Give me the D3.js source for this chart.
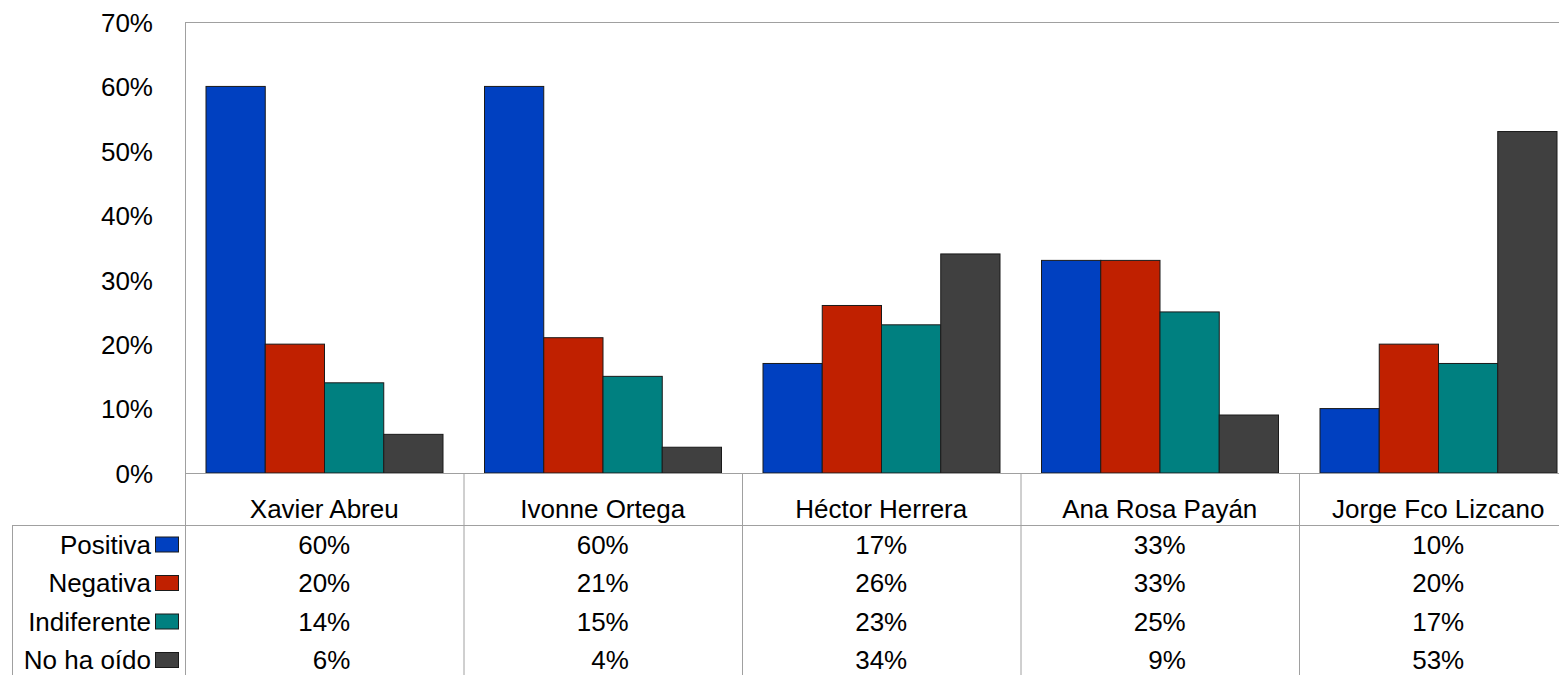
<!DOCTYPE html>
<html><head><meta charset="utf-8">
<script src="https://cdn.jsdelivr.net/npm/d3@7"></script>
<style>body{margin:0;background:#fff;} svg{display:block;font-family:"Liberation Sans",Arial,sans-serif;}</style>
</head><body>
<svg id="c" width="1559" height="675"></svg>
<script>
const categories = ["Xavier Abreu","Ivonne Ortega","Héctor Herrera","Ana Rosa Payán","Jorge Fco Lizcano"];
const seriesNames = ["Positiva","Negativa","Indiferente","No ha oído"];
const positiva = [60,60,17,33,10];
const negativa = [20,21,26,33,20];
const indiferente = [14,15,23,25,17];
const noHaOido = [6,4,34,9,53];
const yTicks = [0,10,20,30,40,50,60,70];
const colors = ["#0040C0","#C02000","#008080","#404040"];
const seriesValues = [positiva,negativa,indiferente,noHaOido];

const svg = d3.select("#c");
const plotLeft = 185, plotTop = 22, plotBottom = 473, groupW = 278.5;
const gridColor = "#a0a0a0";
const fs = 26;

const x0 = d3.scaleBand().domain(categories).range([plotLeft, plotLeft + groupW*categories.length]).padding(0);
const x1 = d3.scaleBand().domain(seriesNames).range([21, groupW - 20.5]).padding(0);
const y = d3.scaleLinear().domain([0,70]).range([plotBottom, plotTop]);

// y axis
const yAxis = d3.axisLeft(y).tickValues(yTicks).tickSize(0).tickPadding(32).tickFormat(d => d + "%");
const ga = svg.append("g").attr("transform", `translate(${plotLeft},0)`).call(yAxis);
ga.select(".domain").remove();
ga.selectAll("text").attr("font-size", fs).attr("fill","#000").attr("font-family","Liberation Sans, Arial, sans-serif").attr("dy","0.36em");

// plot border
svg.append("line").attr("x1", plotLeft).attr("x2", 1559).attr("y1", y(70)+0.5).attr("y2", y(70)+0.5).attr("stroke", gridColor);
svg.append("line").attr("x1", plotLeft+0.5).attr("x2", plotLeft+0.5).attr("y1", y(70)).attr("y2", 675).attr("stroke", gridColor);

// bars
seriesNames.forEach((s, si) => {
  svg.append("g").selectAll("rect").data(categories).join("rect")
    .attr("x", c => x0(c) + x1(s))
    .attr("y", (c, i) => y(seriesValues[si][i]))
    .attr("width", x1.bandwidth())
    .attr("height", (c, i) => y(0) - y(seriesValues[si][i]))
    .attr("fill", colors[si])
    .attr("stroke", "#1a1a1a").attr("stroke-width", 1);
});

// baseline
svg.append("line").attr("x1", plotLeft).attr("x2", 1559).attr("y1", plotBottom+0.5).attr("y2", plotBottom+0.5).attr("stroke", gridColor);

// table
const tableTop = 525;
svg.append("line").attr("x1", 12).attr("x2", 1559).attr("y1", tableTop+0.5).attr("y2", tableTop+0.5).attr("stroke", gridColor);
svg.append("line").attr("x1", 12.5).attr("x2", 12.5).attr("y1", tableTop).attr("y2", 675).attr("stroke", gridColor);
categories.forEach((c, i) => {
  if (i > 0) svg.append("line").attr("x1", x0(c)+0.5).attr("x2", x0(c)+0.5).attr("y1", plotBottom).attr("y2", 675).attr("stroke", gridColor);
  svg.append("text").attr("x", x0(c) + groupW/2).attr("y", 518).attr("text-anchor","middle").attr("font-size", fs).text(c);
});

const rowBase = [553.5, 592, 630.5, 669];
seriesNames.forEach((s, si) => {
  const by = rowBase[si];
  svg.append("text").attr("x", 151).attr("y", by).attr("text-anchor","end").attr("font-size", fs).text(s);
  svg.append("rect").attr("x", 155.5).attr("y", by - 16.5).attr("width", 23).attr("height", 15)
    .attr("fill", colors[si]).attr("stroke", "#1a1a1a");
  categories.forEach((c, i) => {
    svg.append("text").attr("x", x0(c) + groupW/2 + 26).attr("y", by).attr("text-anchor","end").attr("font-size", fs)
      .text(seriesValues[si][i] + "%");
  });
});
</script>
</body></html>
